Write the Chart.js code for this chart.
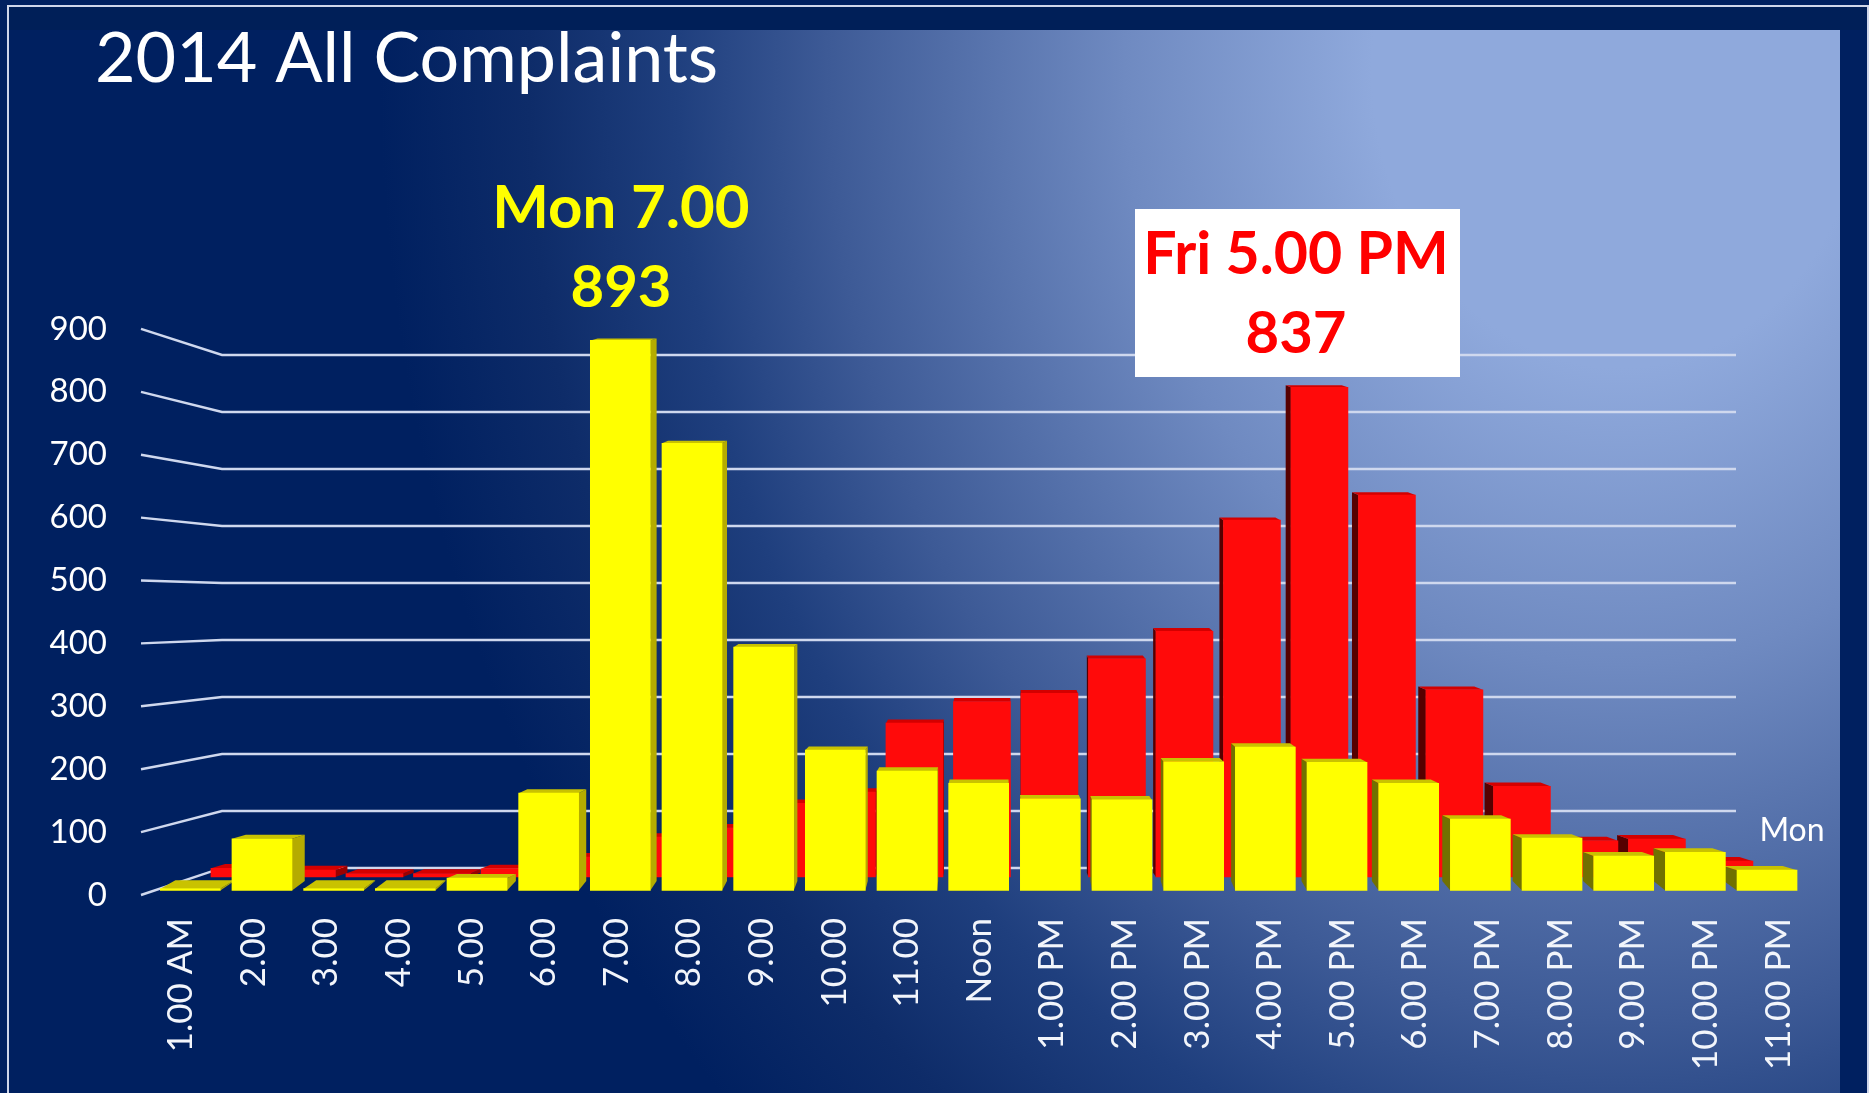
<!DOCTYPE html>
<html><head><meta charset="utf-8">
<style>html,body{margin:0;padding:0;background:#002060;overflow:hidden}canvas{display:block}</style>
<script src="https://cdn.jsdelivr.net/npm/chart.js@4/dist/chart.umd.min.js"></script>
</head><body><canvas id="c" width="1869" height="1093"></canvas>
<script>
const hourLabels = ["1.00 AM","2.00","3.00","4.00","5.00","6.00","7.00","8.00","9.00","10.00","11.00","Noon","1.00 PM","2.00 PM","3.00 PM","4.00 PM","5.00 PM","6.00 PM","7.00 PM","8.00 PM","9.00 PM","10.00 PM","11.00 PM"];
const friValues = [15,12,6,6,14,34,68,84,126,145,263,300,314,373,420,610,837,653,320,155,62,65,27];
const monValues = [3,84,3,3,20,158,893,726,395,228,194,174,149,147,209,233,208,174,116,85,56,62,33];
const yTickValues = [0,100,200,300,400,500,600,700,800,900];
const titleText = "2014 All Complaints";
const monNote = ["Mon 7.00","893"];
const friNote = ["Fri 5.00 PM","837"];
const seriesNote = "Mon";

const FONT = 'Lato, "Open Sans", sans-serif';
const VX = 1000, KX = 0.018;
const depthX = x => KX * (VX - x);
const depthY = y => 2 + Math.max(0, y - 340) * 0.004 + Math.max(0, y - 880) * 0.5;

const faces = {
  fri: {top:'#d40000', right:'#9a0000', left:'#560000'},
  mon: {top:'#c9c200', right:'#b5ac00', left:'#717100'}
};

function poly(ctx, pts, fill){
  ctx.fillStyle = fill; ctx.beginPath();
  pts.forEach((p,i)=> i ? ctx.lineTo(p[0],p[1]) : ctx.moveTo(p[0],p[1]));
  ctx.closePath(); ctx.fill();
}

const scene = {
  id:'scene',
  beforeDraw(chart){
    const {ctx} = chart;
    ctx.save();
    ctx.fillStyle = '#002060'; ctx.fillRect(0,0,1869,1093);
    ctx.fillStyle = '#001f58'; ctx.fillRect(9,7,1858,23);
    ctx.strokeStyle = '#cfd6ea'; ctx.lineWidth = 2;
    ctx.beginPath(); ctx.moveTo(8,1093); ctx.lineTo(8,6); ctx.lineTo(1868,6); ctx.lineTo(1868,1093); ctx.stroke();
    ctx.save();
    ctx.translate(1620,70); ctx.scale(1,1.2);
    const g = ctx.createRadialGradient(0,0,0,0,0,1240);
    g.addColorStop(0,'#8fa9dc'); g.addColorStop(0.2,'#8fa9dc');
    g.addColorStop(0.40,'#6f8ac1'); g.addColorStop(0.64,'#3d5a96');
    g.addColorStop(0.76,'#1f3f7e'); g.addColorStop(0.88,'#0e2c69'); g.addColorStop(1,'#002060');
    ctx.fillStyle = g; ctx.fillRect(10-1620,(30-70)/1.2,1830,1063/1.2);
    ctx.restore();
    ctx.restore();
  },
  beforeDatasetsDraw(chart){
    const {ctx, scales} = chart;
    ctx.save();
    ctx.strokeStyle = '#cfd8ee'; ctx.lineWidth = 2.4;
    yTickValues.forEach(v=>{
      const yf = scales.yLabels.getPixelForValue(v);
      const yb = scales.yGrid.getPixelForValue(v);
      ctx.beginPath(); ctx.moveTo(141,yf); ctx.lineTo(222,yb); ctx.lineTo(1736,yb); ctx.stroke();
    });
    ctx.restore();
  },
  beforeDatasetDraw(chart,args){
    const {ctx} = chart;
    const f = faces[chart.data.datasets[args.index].key];
    ctx.save();
    args.meta.data.forEach(b=>{
      const xl = b.x - b.width/2, xr = b.x + b.width/2, yt = b.y, yb = b.base;
      const dy = depthY(yt);
      const dyb = depthY(yb);
      const bl = xl + depthX(xl), br = xr + depthX(xr);
      if (depthX(xr) > 0) poly(ctx,[[xr,yt],[br,yt-dy],[br,yb-dyb],[xr,yb]],f.right);
      if (depthX(xl) < 0) poly(ctx,[[xl,yt],[bl,yt-dy],[bl,yb-dyb],[xl,yb]],f.left);
      poly(ctx,[[xl,yt],[bl,yt-dy],[br,yt-dy],[xr,yt]],f.top);
    });
    ctx.restore();
  },
  afterDraw(chart){
    const {ctx} = chart;
    ctx.save();
    ctx.textBaseline = 'middle'; ctx.textAlign = 'left';
    ctx.fillStyle = '#ffffff'; ctx.font = '70px '+FONT;
    ctx.fillText(titleText,95,59);
    ctx.textAlign = 'center';
    ctx.fillStyle = '#ffff00'; ctx.font = 'bold 60px '+FONT;
    ctx.fillText(monNote[0],621,209);
    ctx.font = 'bold 58px '+FONT;
    ctx.fillText(monNote[1],621,288);
    ctx.fillStyle = '#ffffff'; ctx.fillRect(1135,209,325,168);
    ctx.fillStyle = '#ff0000'; ctx.font = 'bold 59px '+FONT;
    ctx.fillText(friNote[0],1296,255);
    ctx.font = 'bold 58px '+FONT;
    ctx.fillText(friNote[1],1296,334);
    ctx.fillStyle = '#ffffff'; ctx.font = '32px '+FONT;
    ctx.fillText(seriesNote,1792,831);
    ctx.restore();
  }
};

const hidden = (min,max,pos) => ({type:'linear',display:false,offset:false,min,max,position:pos});

new Chart(document.getElementById('c'),{
  type:'bar',
  data:{
    labels:hourLabels,
    datasets:[
      {key:'fri',label:'Fri',data:friValues.map((v,i)=>({x:i,y:v})),backgroundColor:'#ff0a0a',
       grouped:false,barThickness:57,xAxisID:'xBack',yAxisID:'yRed',order:2},
      {key:'mon',label:'Mon',data:monValues.map((v,i)=>({x:i,y:v})),backgroundColor:'#ffff00',
       grouped:false,barThickness:60,xAxisID:'xFront',yAxisID:'yMon',order:1}
    ]
  },
  options:{
    responsive:false,animation:false,
    layout:{padding:{left:0,right:69,top:300,bottom:0}},
    plugins:{legend:{display:false},tooltip:{enabled:false},title:{display:false}},
    scales:{
      xLabels:{type:'linear',position:'bottom',offset:false,min:-0.551,max:22.3,
        grid:{display:false},border:{display:false},
        afterBuildTicks:s=>{s.ticks=hourLabels.map((_,i)=>({value:i}));},
        afterFit:s=>{s.height=198;s.paddingLeft=0;s.paddingRight=0;},
        ticks:{autoSkip:false,minRotation:90,maxRotation:90,padding:15,color:'#f2f5fb',
          font:{family:FONT,size:35},callback:v=>hourLabels[v]}},
      xFront:hidden(-0.688,22.46,'bottom'),
      xBack:hidden(-1.459,23.12,'bottom'),
      yLabels:{type:'linear',position:'left',min:0,max:946,
        grid:{display:false},border:{display:false},
        afterBuildTicks:s=>{s.ticks=yTickValues.map(v=>({value:v}));},
        afterFit:s=>{s.width=141;},
        ticks:{padding:26,color:'#ffffff',font:{family:FONT,size:33}}},
      yMon:hidden(-7.3,958.6,'left'),
      yRed:hidden(-30.8,986.3,'left'),
      yGrid:hidden(-47.4,996.5,'left')
    }
  },
  plugins:[scene]
});
</script></body></html>
